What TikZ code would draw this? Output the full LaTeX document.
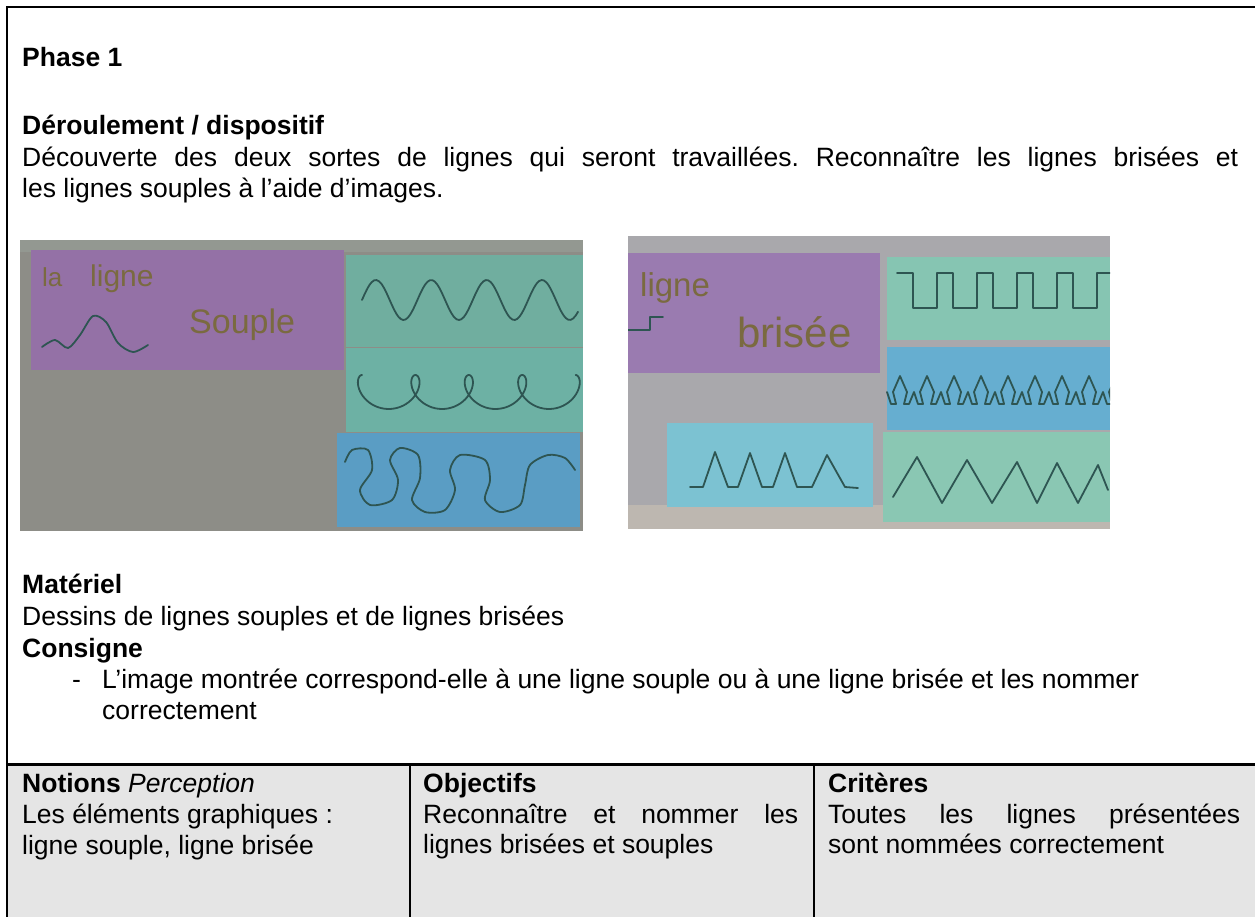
\documentclass[tikz,border=0pt]{standalone}
\usepackage{fontspec}
\setmainfont{Liberation Sans}
\frenchspacing
\definecolor{framec}{HTML}{000000}
\definecolor{cellgrey}{HTML}{E5E5E5}
\definecolor{photoA}{HTML}{8D8D87}
\definecolor{photoAtop}{HTML}{939891}
\definecolor{photoB}{HTML}{A9A8AC}
\definecolor{photoBbot}{HTML}{BDB7B0}
\definecolor{purpleA}{HTML}{9471A6}
\definecolor{purpleB}{HTML}{9A7BB0}
\definecolor{tealA}{HTML}{70AE9F}
\definecolor{tealA2}{HTML}{6DB1A4}
\definecolor{blueA}{HTML}{5A9DC4}
\definecolor{tealB}{HTML}{86C5B2}
\definecolor{blueB}{HTML}{66AED0}
\definecolor{blueC}{HTML}{7CC2D2}
\definecolor{greenB}{HTML}{8AC7B3}
\definecolor{inkc}{HTML}{2E5552}
\definecolor{handc}{HTML}{7A6A40}
\tikzset{
  txt/.style={font=\fontsize{26.5}{30.5}\selectfont, inner sep=0pt, anchor=base west},
  rule/.style={draw=framec, line width=2pt},
  pen/.style={draw=inkc, line width=1.8pt, line join=round, line cap=round},
  hand/.style={text=handc, inner sep=0pt, anchor=base west}
}
\begin{document}
\begin{tikzpicture}[x=1pt,y=-1pt]
\useasboundingbox (0,0) rectangle (1255,917);
\fill[white] (0,0) rectangle (1255,917);

% table shading
\fill[cellgrey] (8,765) rectangle (1255,917);

% frame and table rules
\coordinate (tl) at (7,7);
\coordinate (tr) at (1255,7);
\coordinate (bl) at (7,917);
\draw[rule] (tr) -- (tl) -- (bl);
\coordinate (t1) at (7,764);
\coordinate (t2) at (1255,764);
\draw[draw=framec, line width=3pt] (t1) -- (t2);
\coordinate (c1a) at (410,764);
\coordinate (c1b) at (410,917);
\coordinate (c2a) at (814,764);
\coordinate (c2b) at (814,917);
\draw[rule] (c1a) -- (c1b);
\draw[rule] (c2a) -- (c2b);

% texts
\node[txt] (phase) at (22,67) {\bfseries Phase 1};
\node[txt] (deroul) at (22,135) {\bfseries Déroulement / dispositif};
\node[txt, text width=1216pt, align=justify] (decouv) at (22,167)
  {Découverte des deux sortes de lignes qui seront travaillées. Reconnaître les lignes brisées et\linebreak les lignes souples à l’aide d’images.};
\node[txt] (materiel) at (22,593) {\bfseries Matériel};
\node[txt] (dessins) at (22,625) {Dessins de lignes souples et de lignes brisées};
\node[txt] (consigne) at (22,657) {\bfseries Consigne};
\node[txt] (dash) at (72,688) {-};
\node[txt] (image1) at (102,688) {L’image montrée correspond-elle à une ligne souple ou à une ligne brisée et les nommer};
\node[txt] (image2) at (102,719) {correctement};

\node[txt] (notions) at (22,792) {\textbf{Notions} \textit{Perception}};
\node[txt] (notions2) at (22,823) {Les éléments graphiques :};
\node[txt] (notions3) at (22,854) {ligne souple, ligne brisée};
\node[txt] (objectifs) at (423,792) {\bfseries Objectifs};
\node[txt, text width=375pt, align=justify] (obj2) at (423,823)
  {Reconnaître et nommer les\linebreak lignes brisées et souples};
\node[txt] (criteres) at (828,792) {\bfseries Critères};
\node[txt, text width=412pt, align=justify] (crit2) at (828,823)
  {Toutes les lignes présentées\linebreak sont nommées correctement};

% ---------- left photo ----------
\begin{scope}
\clip (20,240) rectangle (583,531);
\fill[photoA] (20,240) rectangle (583,531);
\fill[photoAtop] (20,240) rectangle (583,252);
\fill[purpleA] (31,250) rectangle (344,370);
\fill[tealA] (346,255) rectangle (583,347);
\fill[tealA2] (346,348) rectangle (583,432);
\fill[blueA] (337,433) rectangle (580,527);
\node[hand, font=\fontsize{26}{26}\selectfont] (la) at (42,287) {la};
\node[hand, font=\fontsize{30}{30}\selectfont] (ligneA) at (90,287) {ligne};
\node[hand, font=\fontsize{34}{34}\selectfont] (soupleA) at (189,333) {Souple};
\draw[pen] plot[smooth] coordinates {(42,347) (55,340) (68,348) (80,335) (93,316) (106,322) (118,343) (133,352) (148,345)};
\draw[pen] plot[smooth, domain=362:578, samples=90] (\x, {300 - 20*sin((\x-362)*6.5)});
\draw[pen] plot[smooth, domain=0:1440, samples=180, variable=\t] ({362 + 8.5*(\t/180)*pi - 15*sin(\t)}, {392 - 17*cos(\t)});
\draw[pen] plot[smooth] coordinates {(345,462) (352,450) (368,450) (372,470) (360,490) (370,505) (392,500) (398,480) (390,460) (400,448) (418,455) (420,478) (412,500) (425,512) (445,510) (455,490) (450,470) (460,455) (485,460) (490,480) (485,500) (500,512) (520,505) (525,485) (530,465) (548,455) (565,458) (575,470)};
\end{scope}

% ---------- right photo ----------
\begin{scope}
\clip (628,236) rectangle (1110,529);
\fill[photoB] (628,236) rectangle (1110,529);
\fill[photoBbot] (628,505) rectangle (1110,529);
\fill[purpleB] (628,253) rectangle (880,373);
\fill[tealB] (887,257) rectangle (1110,340);
\fill[blueB] (887,347) rectangle (1110,430);
\fill[blueC] (667,423) rectangle (873,507);
\fill[greenB] (883,432) rectangle (1110,522);
\node[hand, font=\fontsize{33}{33}\selectfont] (ligneB) at (640,297) {ligne};
\node[hand, font=\fontsize{42}{42}\selectfont] (briseeB) at (737,347) {brisée};
\draw[pen] (628,330) -- (650,330) -- (650,317) -- (663,317);
\draw[pen] (897,273) \foreach \i in {0,...,5} { -- ++(16,0) -- ++(0,35) -- ++(24,0) -- ++(0,-35) };
\draw[pen] (887,392) \foreach \i in {0,...,8} { -- ++(4,12) -- ++(5,0) -- ++(-3,-12) -- ++(7,-16) -- ++(7,16) -- ++(-3,12) -- ++(5,0) -- ++(5,-12) };
\draw[pen] (690,487) -- (703,487) -- (715,452) -- (728,487) -- (738,487) -- (750,453) -- (762,487) -- (773,487) -- (785,453) -- (797,487) -- (812,487) -- (827,455) -- (845,487) -- (858,488);
\draw[pen] (893,497) -- (917,457) -- (942,503) -- (967,460) -- (992,503) -- (1017,462) -- (1037,503) -- (1057,463) -- (1078,503) -- (1098,465) -- (1108,490);
\end{scope}
\end{tikzpicture}
\end{document}
